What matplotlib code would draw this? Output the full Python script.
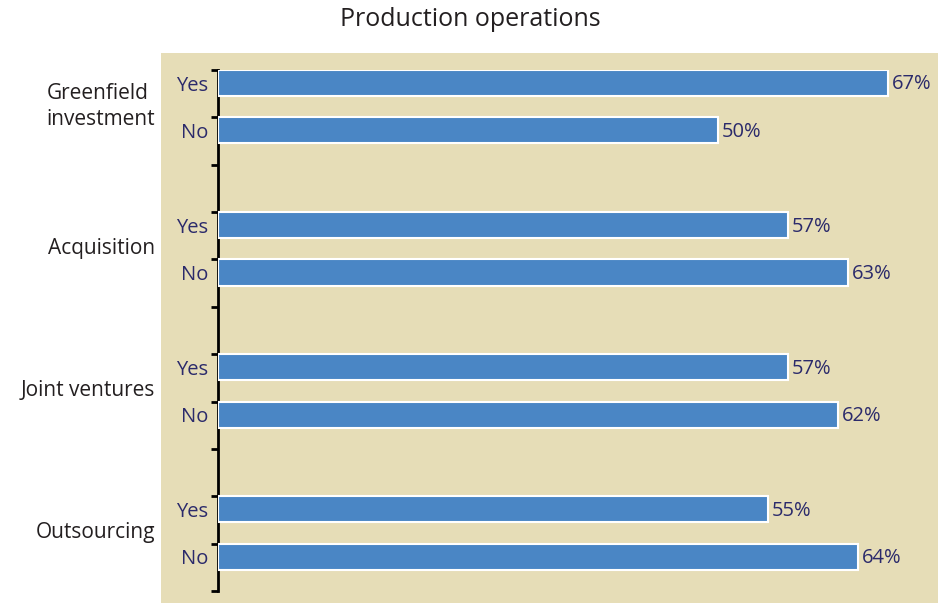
import numpy as np
import matplotlib.pyplot as plt
from matplotlib.patches import Rectangle

plt.rcParams['font.family'] = ['Open Sans', 'DejaVu Sans']

groups = ["Greenfield\ninvestment", "Acquisition", "Joint ventures", "Outsourcing"]
answers = ["Yes", "No"]
values = [[67, 50], [57, 63], [57, 62], [55, 64]]

bar_color = '#4a86c5'
navy = '#2b2a6b'
beige = '#e6ddb7'

fig = plt.figure(figsize=(9.4, 6.03), dpi=100)
W, H = 940, 603

# beige panel behind axes and tick labels
fig.patches.append(Rectangle((161 / W, 0), (938 - 161) / W, (603 - 53) / H,
                             transform=fig.transFigure, facecolor=beige,
                             edgecolor='none', zorder=-1))

ax = fig.add_axes([218 / W, (H - 591) / H, (938 - 218) / W, (591 - 70) / H])
ax.set_facecolor('none')
ax.set_zorder(2)

slot = 0
bar_h = 0.55
for g, name in enumerate(groups):
    centers = []
    for a, ans in enumerate(answers):
        v = values[g][a]
        ax.barh(slot, v, height=bar_h, align='edge', color=bar_color,
                edgecolor='white', linewidth=1.5, zorder=3)
        yc = slot + bar_h / 2
        centers.append(yc)
        ax.annotate(f"{v}%", (v, yc), xytext=(3, -1), textcoords='offset points',
                    ha='left', va='center', color=navy, fontsize=14.5)
        ax.annotate(ans, (0, yc), xytext=(-7, -2), textcoords='offset points',
                    ha='right', va='center', color=navy, fontsize=14.5)
        slot += 1
    ax.annotate(name, (0, np.mean(centers)), xytext=(-63 * 72 / 100, 0),
                textcoords='offset points', ha='right', va='center',
                multialignment='left', color='#231f20', fontsize=15,
                linespacing=1.3)
    slot += 1

ax.set_ylim(11, 0)
ax.set_xlim(0, 72)
ax.set_yticks(np.arange(12))
ax.set_yticklabels([])
ax.set_xticks([])
for s in ['top', 'right', 'bottom']:
    ax.spines[s].set_visible(False)
ax.spines['left'].set_linewidth(2)
ax.spines['left'].set_color('black')
ax.tick_params(axis='y', direction='out', length=5, width=2, color='black')

fig.text(0.5, 1 - 20 / H, "Production operations", ha='center', va='center',
         fontsize=18, color='#231f20')

fig.savefig('out.png', dpi=100, facecolor='white')
